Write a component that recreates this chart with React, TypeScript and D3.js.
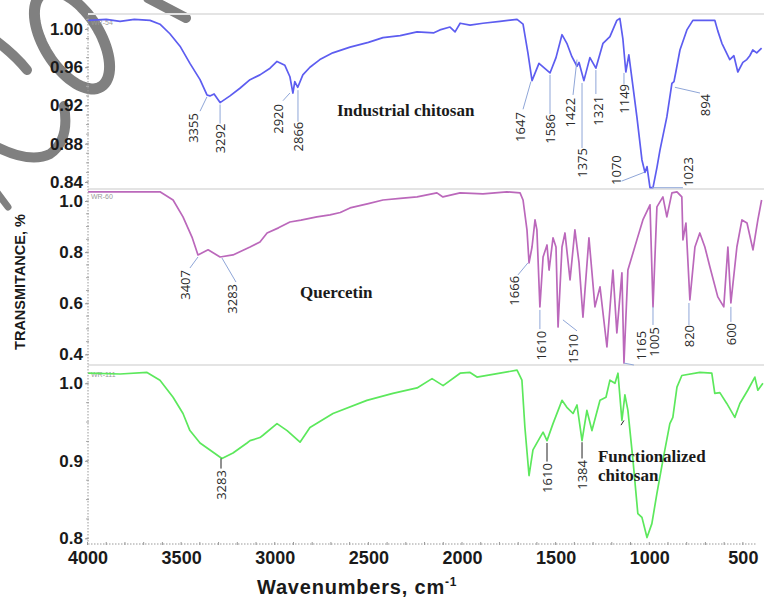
import React, { useEffect, useRef } from "react";
import * as d3 from "d3";

const width = 764;
const height = 597;

// [wavenumber cm-1, transmittance]
const chitosan: [number, number][] = [
    [3997, 1.009], [3900, 1.010], [3826, 1.008], [3750, 1.010], [3666, 1.009], [3613, 1.005], [3560, 0.995],
    [3506, 0.982], [3453, 0.964], [3399, 0.947], [3362, 0.931], [3346, 0.930], [3324, 0.932], [3292, 0.923],
    [3239, 0.930], [3186, 0.938], [3132, 0.947], [3079, 0.952], [3025, 0.959], [2988, 0.966], [2946, 0.962],
    [2919, 0.950], [2903, 0.933], [2893, 0.945], [2877, 0.939], [2850, 0.952], [2812, 0.960], [2759, 0.968],
    [2690, 0.975], [2598, 0.981], [2500, 0.986], [2422, 0.991], [2330, 0.993], [2240, 0.997], [2150, 0.996],
    [2118, 0.999], [2064, 1.002], [2037, 0.997], [2010, 1.006], [1957, 1.004], [1888, 1.006], [1797, 1.008],
    [1706, 1.010], [1674, 1.005], [1648, 0.975], [1626, 0.946], [1589, 0.964], [1530, 0.954], [1498, 0.970],
    [1466, 0.994], [1440, 0.985], [1413, 0.971], [1386, 0.961], [1375, 0.965], [1349, 0.946], [1317, 0.970],
    [1285, 0.959], [1247, 0.985], [1210, 0.992], [1173, 1.009], [1157, 1.011], [1141, 0.990], [1125, 0.955],
    [1109, 0.973], [1087, 0.940], [1066, 0.908], [1039, 0.863], [1023, 0.850], [1012, 0.856], [996, 0.834],
    [980, 0.834], [959, 0.855], [943, 0.873], [906, 0.908], [879, 0.943], [868, 0.945], [858, 0.955],
    [836, 0.978], [799, 0.999], [767, 1.009], [650, 1.009], [634, 0.998], [612, 0.985], [570, 0.968],
    [548, 0.972], [527, 0.955], [500, 0.965], [479, 0.968], [463, 0.972], [447, 0.978], [426, 0.975], [400, 0.980],
];

const quercetin: [number, number][] = [
    [3997, 1.036], [3800, 1.036], [3613, 1.036], [3543, 1.004], [3490, 0.938], [3442, 0.859], [3410, 0.789],
    [3356, 0.809], [3292, 0.781], [3223, 0.789], [3132, 0.820], [3079, 0.840], [3041, 0.875], [2980, 0.895],
    [2919, 0.918], [2860, 0.925], [2775, 0.938], [2705, 0.946], [2650, 0.955], [2598, 0.973], [2500, 0.990],
    [2422, 1.004], [2330, 1.010], [2240, 1.016], [2134, 1.032], [2102, 1.016], [2010, 1.032], [1888, 1.028],
    [1760, 1.036], [1690, 1.032], [1674, 1.004], [1653, 0.887], [1642, 0.758], [1626, 0.820], [1610, 0.926],
    [1600, 0.887], [1584, 0.586], [1567, 0.781], [1546, 0.828], [1535, 0.730], [1514, 0.856], [1498, 0.820],
    [1487, 0.507], [1466, 0.820], [1450, 0.875], [1423, 0.691], [1397, 0.887], [1375, 0.758], [1354, 0.546],
    [1322, 0.856], [1290, 0.586], [1263, 0.664], [1226, 0.429], [1194, 0.730], [1173, 0.484], [1146, 0.719],
    [1135, 0.366], [1114, 0.730], [1066, 0.848], [1034, 0.926], [996, 0.985], [980, 0.586], [959, 0.977],
    [927, 1.016], [906, 0.938], [879, 1.032], [852, 1.036], [826, 1.016], [820, 0.848], [804, 0.914],
    [783, 0.613], [756, 0.820], [730, 0.875], [703, 0.820], [676, 0.742], [634, 0.625], [602, 0.586],
    [580, 0.820], [564, 0.601], [532, 0.820], [505, 0.926], [478, 0.914], [446, 0.809], [420, 0.926], [400, 1.004],
];

const functionalized: [number, number][] = [
    [3997, 1.013], [3826, 1.012], [3682, 1.014], [3613, 1.004], [3543, 0.982], [3490, 0.961], [3453, 0.939],
    [3399, 0.923], [3346, 0.914], [3282, 0.903], [3223, 0.910], [3148, 0.923], [3132, 0.926], [3079, 0.930],
    [3063, 0.933], [2988, 0.948], [2934, 0.939], [2865, 0.924], [2812, 0.943], [2689, 0.961], [2508, 0.978],
    [2369, 0.987], [2240, 0.994], [2160, 1.006], [2101, 0.997], [2010, 1.013], [1957, 1.014], [1920, 1.008],
    [1797, 1.013], [1706, 1.017], [1680, 1.004], [1664, 0.943], [1642, 0.881], [1621, 0.914], [1584, 0.930],
    [1567, 0.937], [1546, 0.926], [1514, 0.948], [1466, 0.978], [1440, 0.969], [1407, 0.961], [1386, 0.972],
    [1359, 0.926], [1333, 0.965], [1306, 0.939], [1263, 0.978], [1231, 0.982], [1210, 1.004], [1183, 1.000],
    [1167, 1.013], [1146, 0.952], [1130, 0.985], [1114, 0.965], [1087, 0.901], [1061, 0.832], [1039, 0.827],
    [1012, 0.801], [986, 0.819], [959, 0.858], [927, 0.901], [890, 0.948], [874, 0.956], [852, 0.995],
    [826, 1.010], [730, 1.014], [666, 1.013], [650, 0.987], [623, 0.988], [586, 0.974], [543, 0.956],
    [516, 0.974], [474, 0.991], [436, 1.008], [420, 0.991], [393, 1.000],
];

const chitosanTicks = [0.84, 0.88, 0.92, 0.96, 1.0];
const quercetinTicks = [0.4, 0.6, 0.8, 1.0];
const functionalizedTicks = [0.8, 0.9, 1.0];
const wavenumberTicks = [4000, 3500, 3000, 2500, 2000, 1500, 1000, 500];

// peak label: curve point (w, t), leader end (lw, lt), text top (tw, tt)
type Peak = { text: string, w: number, t: number, lw: number, lt: number, tw?: number, tt?: number };

const chitosanPeaks: Peak[] = [
    { text: "3355", w: 3362, t: 0.929, lw: 3399, lt: 0.914, tw: 3437, tt: 0.912 },
    { text: "3292", w: 3292, t: 0.921, lw: 3292, lt: 0.901 },
    { text: "2920", w: 2919, t: 0.933, lw: 2956, lt: 0.925, tw: 2983, tt: 0.9215 },
    { text: "2866", w: 2876, t: 0.936, lw: 2876, lt: 0.903 },
    { text: "1647", w: 1632, t: 0.945, lw: 1674, lt: 0.916, tw: 1690, tt: 0.913 },
    { text: "1586", w: 1530, t: 0.952, lw: 1530, lt: 0.911 },
    { text: "1422", w: 1386, t: 0.968, lw: 1407, lt: 0.931, tw: 1423, tt: 0.928 },
    { text: "1375", w: 1359, t: 0.9435, lw: 1359, lt: 0.8755 },
    { text: "1321", w: 1285, t: 0.957, lw: 1285, lt: 0.932, tw: 1274, tt: 0.930 },
    { text: "1149", w: 1135, t: 0.954, lw: 1135, lt: 0.9425 },
    { text: "1070", w: 1028, t: 0.850, lw: 1146, lt: 0.841, tw: 1178, tt: 0.868 },
    { text: "1023", w: 985, t: 0.834, lw: 820, lt: 0.834, tw: 793, tt: 0.866 },
    { text: "894", w: 863, t: 0.939, lw: 729, lt: 0.933, tw: 703, tt: 0.932 },
];

const quercetinPeaks: Peak[] = [
    { text: "3407", w: 3410, t: 0.781, lw: 3453, lt: 0.738, tw: 3479, tt: 0.730 },
    { text: "3283", w: 3282, t: 0.777, lw: 3207, lt: 0.683, tw: 3228, tt: 0.6755 },
    { text: "1666", w: 1648, t: 0.758, lw: 1701, lt: 0.711, tw: 1723, tt: 0.707 },
    { text: "1610", w: 1584, t: 0.574, lw: 1584, lt: 0.499, tw: 1578, tt: 0.492 },
    { text: "1510", w: 1461, t: 0.535, lw: 1386, lt: 0.492, tw: 1407, tt: 0.480 },
    { text: "1165", w: 1135, t: 0.366, lw: 1082, lt: 0.3585, tw: 1044, tt: 0.492 },
    { text: "1005", w: 980, t: 0.586, lw: 980, lt: 0.515, tw: 975, tt: 0.507 },
    { text: "820", w: 788, t: 0.601, lw: 788, lt: 0.515 },
    { text: "600", w: 564, t: 0.586, lw: 564, lt: 0.527, tt: 0.523 },
];

const functionalizedPeaks: Peak[] = [
    { text: "3283", w: 3287, t: 0.903, lw: 3287, lt: 0.890, tt: 0.888 },
    { text: "1610", w: 1546, t: 0.923, lw: 1546, lt: 0.899, tt: 0.897 },
    { text: "1384", w: 1359, t: 0.924, lw: 1359, lt: 0.903, tt: 0.901 },
    { text: "", w: 1135, t: 0.952, lw: 1151, lt: 0.946 },
];

const panels = [
    {
        title: ["Industrial chitosan"], titleAt: [2668, 0.909], tag: "WR-54",
        data: chitosan, ticks: chitosanTicks, fmt: ".2f", peaks: chitosanPeaks,
        domain: [0.8316, 1.0146], range: [190, 15], color: "#5d5df0", leader: "#8fa6d8",
    },
    {
        title: ["Quercetin"], titleAt: [2865, 0.621], tag: "WR-60",
        data: quercetin, ticks: quercetinTicks, fmt: ".1f", peaks: quercetinPeaks,
        domain: [0.3585, 1.047], range: [365, 189], color: "#bb68bb", leader: "#8fa6d8",
    },
    {
        title: ["Functionalized", "chitosan"], titleAt: [1274, 0.898], tag: "WR-111",
        data: functionalized, ticks: functionalizedTicks, fmt: ".1f", peaks: functionalizedPeaks,
        domain: [0.794, 1.021], range: [543, 367], color: "#5ce85c", leader: "#222",
    },
];

const App = () => {
    const ref = useRef<SVGSVGElement>(null);

    useEffect(() => {
        document.body.style.margin = "0";
        const svg = d3.select(ref.current);
        svg.selectAll("*").remove();

        const x = d3.scaleLinear().domain([4000, 400]).range([87.5, 761.6]);
        const sans = "'Liberation Sans', Arial, sans-serif";

        // watermark strokes over the top-left corner (drawn first, text sits on top)
        const wm = svg.append("g")
            .attr("fill", "none").attr("stroke", "#808080").attr("stroke-width", 10)
            .attr("stroke-linecap", "round");
        const ring = d3.path();
        const rot = 58 * Math.PI / 180;
        d3.range(0, 2 * Math.PI + 0.01, Math.PI / 36).forEach((a, i) => {
            const ex = 55 * Math.cos(a), ey = 28 * Math.sin(a);
            const px = 72 + ex * Math.cos(rot) - ey * Math.sin(rot);
            const py = 40 + ex * Math.sin(rot) + ey * Math.cos(rot);
            if (i === 0) ring.moveTo(px, py); else ring.lineTo(px, py);
        });
        ring.closePath();
        wm.append("path").attr("d", ring.toString()).attr("stroke-width", 11);
        wm.append("path").attr("d", "M -5 40 Q 15 55 27 70");
        wm.append("path").attr("d", "M 64 106 Q 70 140 50 154 Q 30 164 -5 146");
        wm.append("path").attr("d", "M 148 -2 L 186 18");
        wm.append("path").attr("d", "M -4 191 L 8 207").attr("stroke-width", 7);

        // panel separators
        [14, 189, 365].forEach(yy => {
            svg.append("line")
                .attr("x1", 88).attr("x2", width)
                .attr("y1", yy).attr("y2", yy)
                .attr("stroke", "#e4e4e4").attr("stroke-width", 2);
        });

        panels.forEach(p => {
            const y = d3.scaleLinear().domain(p.domain).range(p.range);
            const g = svg.append("g");

            // minor y ticks
            const step = (p.ticks[1] - p.ticks[0]) / 4;
            const minor = d3.range(p.domain[0], p.domain[1], step)
                .map(v => Math.round(v / step) * step)
                .filter(v => v >= p.domain[0] && v <= p.domain[1]);
            g.append("g").selectAll("line").data(minor).join("line")
                .attr("x1", 86).attr("x2", 89)
                .attr("y1", d => y(d)).attr("y2", d => y(d))
                .attr("stroke", "#aaa").attr("stroke-width", 1);

            const axis = g.append("g")
                .attr("transform", "translate(88,0)")
                .call(d3.axisLeft(y).tickValues(p.ticks).tickFormat(d3.format(p.fmt) as any).tickSize(3).tickSizeOuter(0));
            axis.select(".domain").remove();
            axis.selectAll("line").attr("stroke", "#999");
            axis.selectAll("text")
                .attr("font-family", sans).attr("font-weight", "bold")
                .attr("font-size", 17).attr("fill", "#1a1a1a").attr("x", -5);

            g.append("text")
                .attr("x", 91).attr("y", p.range[1] + 10)
                .attr("font-family", sans).attr("font-size", 7).attr("fill", "#999")
                .text(p.tag);

            const line = d3.line<[number, number]>()
                .x(d => x(d[0]))
                .y(d => y(d[1]));

            g.append("path")
                .datum(p.data)
                .attr("fill", "none")
                .attr("stroke", p.color)
                .attr("stroke-width", 1.7)
                .attr("stroke-linejoin", "round")
                .attr("d", line);

            const peak = g.append("g").selectAll("g").data(p.peaks).join("g");
            peak.append("line")
                .attr("x1", d => x(d.w)).attr("y1", d => y(d.t))
                .attr("x2", d => x(d.lw)).attr("y2", d => y(d.lt))
                .attr("stroke", p.leader).attr("stroke-width", 1);
            peak.append("text")
                .attr("transform", d => `translate(${x(d.tw ?? d.lw)},${y(d.tt ?? d.lt)}) rotate(-90)`)
                .attr("text-anchor", "end")
                .attr("dy", "0.36em")
                .attr("font-family", "'Open Sans', sans-serif")
                .attr("font-size", 13)
                .attr("fill", "#2a2a2a")
                .text(d => d.text);

            g.append("text")
                .attr("font-family", "'Liberation Serif', 'Times New Roman', serif")
                .attr("font-weight", "bold")
                .attr("font-size", 17)
                .attr("fill", "#1a1a1a")
                .selectAll("tspan").data(p.title).join("tspan")
                .attr("x", x(p.titleAt[0]))
                .attr("y", (d, i) => y(p.titleAt[1]) + i * 19)
                .text(d => d);
        });

        // y axis line
        svg.append("line")
            .attr("x1", 88).attr("x2", 88).attr("y1", 15).attr("y2", 543)
            .attr("stroke", "#999").attr("stroke-dasharray", "1.5,1.5");

        // x axis
        const xa = svg.append("g").attr("transform", "translate(0,544)");
        xa.append("line")
            .attr("x1", 88).attr("x2", 756)
            .attr("stroke", "#999").attr("stroke-dasharray", "1.5,1.5");
        xa.append("g").selectAll("line").data(d3.range(4000, 450, -100)).join("line")
            .attr("x1", d => x(d)).attr("x2", d => x(d))
            .attr("y1", -2).attr("y2", 1)
            .attr("stroke", "#999");
        const bottom = xa.append("g")
            .call(d3.axisBottom(x).tickValues(wavenumberTicks).tickFormat(d3.format("d") as any).tickSize(0));
        bottom.select(".domain").remove();
        bottom.selectAll("text")
            .attr("font-family", sans).attr("font-weight", "bold")
            .attr("font-size", 18).attr("fill", "#1a1a1a").attr("dy", "0.95em");

        svg.append("text")
            .attr("x", 257).attr("y", 594)
            .attr("font-family", sans).attr("font-weight", "bold")
            .attr("font-size", 20).attr("letter-spacing", 0.8).attr("fill", "#1a1a1a")
            .text("Wavenumbers, cm")
            .append("tspan").attr("dy", -8).attr("font-size", 12).text("-1");

        svg.append("text")
            .attr("transform", "translate(25,282) rotate(-90)")
            .attr("text-anchor", "middle")
            .attr("font-family", sans).attr("font-weight", "bold")
            .attr("font-size", 14.5).attr("fill", "#1a1a1a")
            .text("TRANSMITANCE, %");
    }, []);

    return (
        <svg ref={ref} width={width} height={height} style={{ display: "block", background: "#fff" }} />
    );
};

export default App;
